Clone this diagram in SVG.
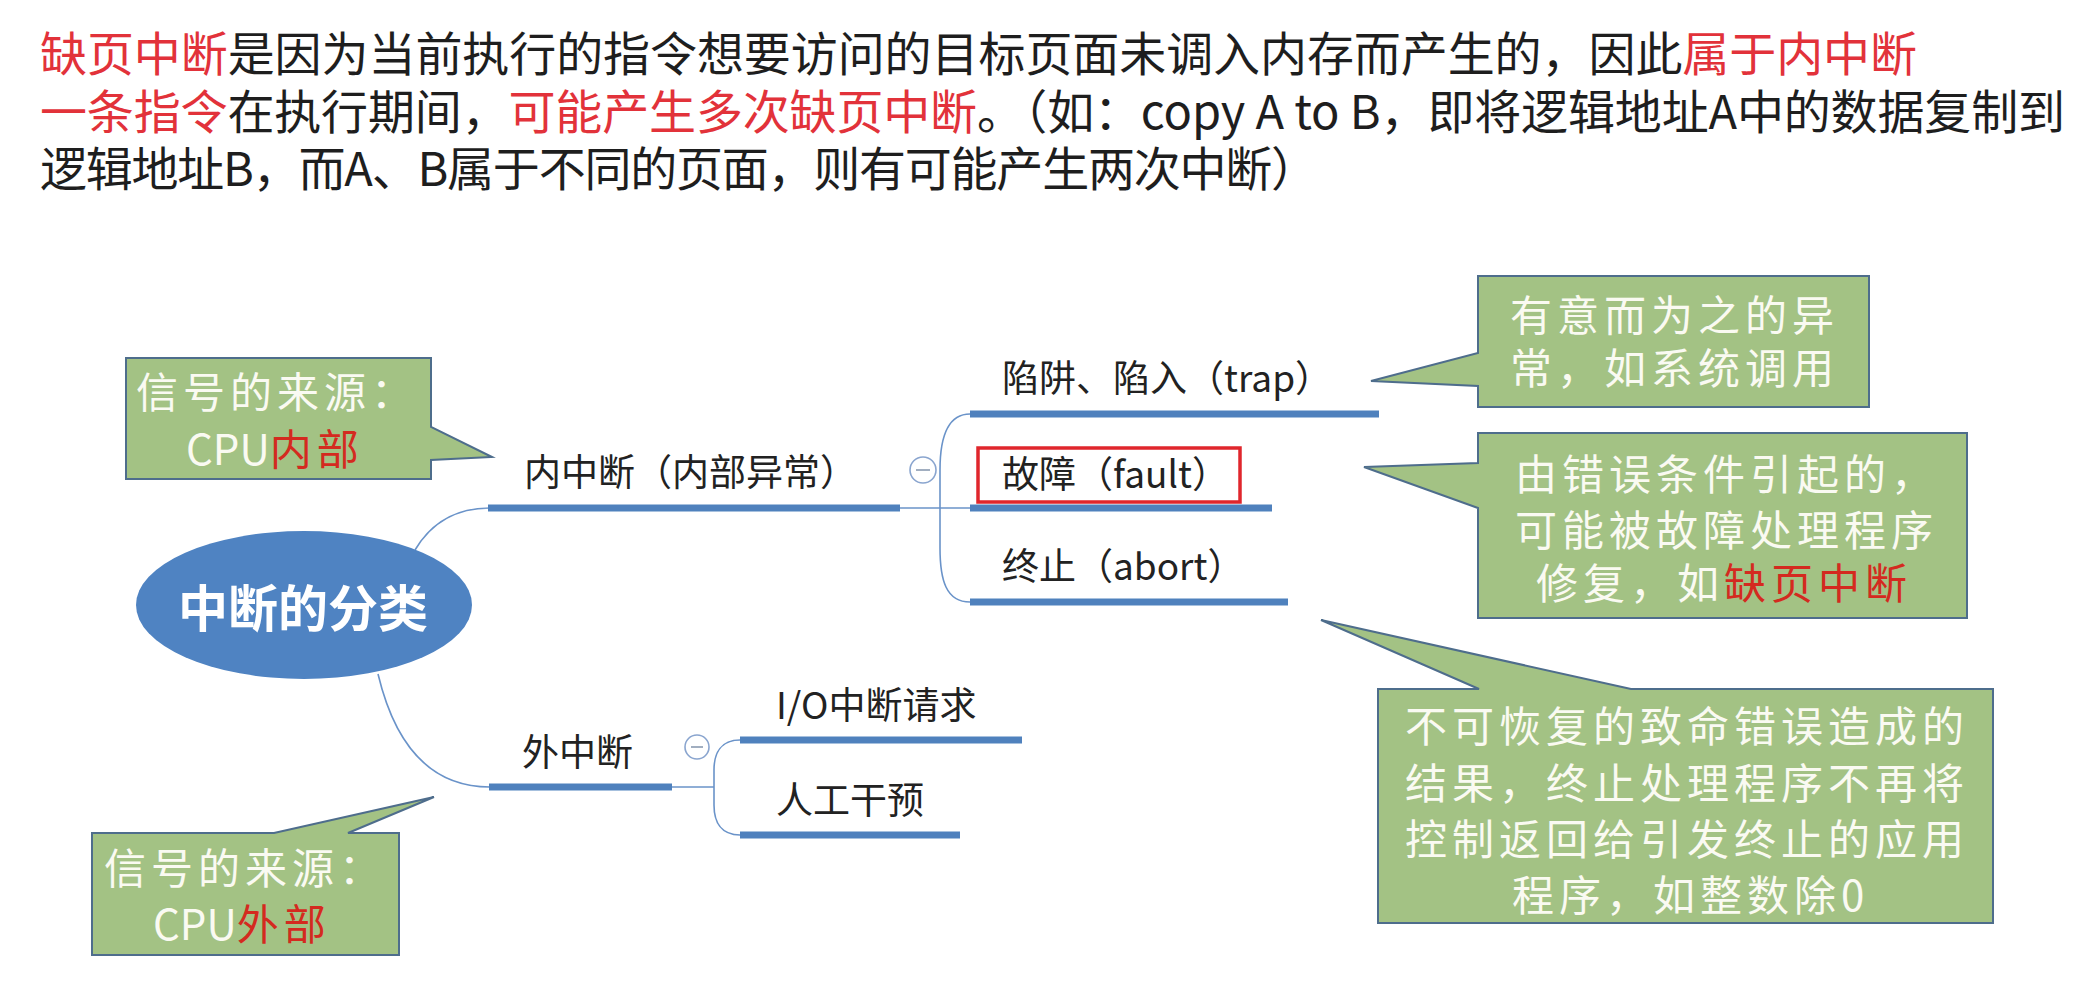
<svg xmlns="http://www.w3.org/2000/svg" width="2082" height="1004" viewBox="0 0 2082 1004">
<style>
  .top { font-family: "Noto Sans CJK SC", "Noto Sans", sans-serif; font-size: 47px; fill: #1e1e1e; }
  .red { fill: #e2323a; }
  .lbl { font-family: "Noto Sans CJK SC", "Noto Sans", sans-serif; font-size: 37px; fill: #222; }
  .call { fill: #a3c284; stroke: #4e6d8c; stroke-width: 2; }
  .ctext { font-family: "Noto Sans CJK SC", "Noto Sans", sans-serif; font-size: 42px; fill: #fafaf2; letter-spacing: 5px; }
  .lat { letter-spacing: 0px; }
  .cred { fill: #d42a1f; }
  .under { stroke: #4f81bd; stroke-width: 7; fill: none; }
  .thin { stroke: #6a93c9; stroke-width: 1.6; fill: none; }
  .toggle { fill: #fff; stroke: #8aa5cf; stroke-width: 1.6; }
  .minus { stroke: #8a9ab0; stroke-width: 1.6; }
</style>
<rect width="2082" height="1004" fill="#fff"/>

<g id="intro-text">
  <text class="top" x="40" y="71" textLength="1877" lengthAdjust="spacing"><tspan class="red">缺页中断</tspan>是因为当前执行的指令想要访问的目标页面未调入内存而产生的，因此<tspan class="red">属于内中断</tspan></text>
  <text class="top" x="40" y="129" textLength="2025" lengthAdjust="spacing"><tspan class="red">一条指令</tspan>在执行期间，<tspan class="red">可能产生多次缺页中断</tspan>。（如：copy A to B，即将逻辑地址A中的数据复制到</text>
  <text class="top" x="40" y="186" textLength="1278" lengthAdjust="spacing">逻辑地址B，而A、B属于不同的页面，则有可能产生两次中断）</text>
</g>

<g id="connectors">
  <path class="thin" d="M415,550 Q440,508 490,508"/>
  <path class="thin" d="M378,674 C395,745 430,787 490,787"/>
  <path class="thin" d="M898,508 H970"/>
  <path class="thin" d="M970,414 C946,414 940,440 940,470 L940,548 C940,580 946,602 970,602"/>
  <path class="thin" d="M670,787 H714"/>
  <path class="thin" d="M740,740 C721,740 714,753 714,770 L714,805 C714,822 721,835 740,835"/>
</g>

<g id="root">
  <ellipse cx="304" cy="605" rx="168" ry="74" fill="#4f83c2"/>
  <text x="303" y="627" text-anchor="middle" font-family="'Noto Sans CJK SC', sans-serif" font-size="50" font-weight="bold" fill="#fff">中断的分类</text>
</g>

<g id="internal">
  <line class="under" x1="488" y1="508" x2="900" y2="508"/>
  <text class="lbl" x="524" y="486">内中断（内部异常）</text>
  <circle class="toggle" cx="923" cy="470" r="13"/>
  <line class="minus" x1="916" y1="470" x2="930" y2="470"/>
</g>

<g id="trap">
  <line class="under" x1="970" y1="414" x2="1379" y2="414"/>
  <text class="lbl" x="1002" y="392">陷阱、陷入（trap）</text>
</g>

<g id="fault">
  <line class="under" x1="970" y1="508" x2="1272" y2="508"/>
  <rect x="978" y="448" width="262" height="54" fill="none" stroke="#e0262c" stroke-width="3.5"/>
  <text class="lbl" x="1002" y="488">故障（fault）</text>
</g>

<g id="abort">
  <line class="under" x1="970" y1="602" x2="1288" y2="602"/>
  <text class="lbl" x="1002" y="580">终止（abort）</text>
</g>

<g id="external">
  <line class="under" x1="489" y1="787" x2="672" y2="787"/>
  <text class="lbl" x="522" y="766">外中断</text>
  <circle class="toggle" cx="697" cy="747" r="12"/>
  <line class="minus" x1="691" y1="747" x2="703" y2="747"/>
</g>

<g id="io">
  <line class="under" x1="740" y1="740" x2="1022" y2="740"/>
  <text class="lbl" x="776" y="719" font-size="38">I/O中断请求</text>
</g>

<g id="manual">
  <line class="under" x1="740" y1="835" x2="960" y2="835"/>
  <text class="lbl" x="776" y="814">人工干预</text>
</g>

<g id="callout-internal-source">
  <path class="call" d="M126,358 H431 V427 L492,457 L431,460 V479 H126 Z"/>
  <text class="ctext" x="136" y="408">信号的来源：</text>
  <text class="ctext" x="186" y="465"><tspan class="lat">CPU</tspan><tspan class="cred">内部</tspan></text>
</g>

<g id="callout-external-source">
  <path class="call" d="M92,833 H274 L434,797 L348,833 H399 V955 H92 Z"/>
  <text class="ctext" x="104" y="884">信号的来源：</text>
  <text class="ctext" x="153" y="940"><tspan class="lat">CPU</tspan><tspan class="cred">外部</tspan></text>
</g>

<g id="callout-trap">
  <path class="call" d="M1478,276 H1869 V407 H1478 V386 L1371,381 L1478,353 Z"/>
  <text class="ctext" x="1510" y="331">有意而为之的异</text>
  <text class="ctext" x="1510" y="384">常，如系统调用</text>
</g>

<g id="callout-fault">
  <path class="call" d="M1478,433 H1967 V618 H1478 V508 L1364,467 L1478,463 Z"/>
  <text class="ctext" x="1515" y="490">由错误条件引起的，</text>
  <text class="ctext" x="1515" y="546">可能被故障处理程序</text>
  <text class="ctext" x="1536" y="599">修复，如<tspan class="cred">缺页中断</tspan></text>
</g>

<g id="callout-abort">
  <path class="call" d="M1378,689 H1479 L1321,620 L1631,689 H1993 V923 H1378 Z"/>
  <text class="ctext" x="1405" y="742">不可恢复的致命错误造成的</text>
  <text class="ctext" x="1405" y="799">结果，终止处理程序不再将</text>
  <text class="ctext" x="1405" y="855">控制返回给引发终止的应用</text>
  <text class="ctext" x="1512" y="911">程序，如整数除0</text>
</g>
</svg>
